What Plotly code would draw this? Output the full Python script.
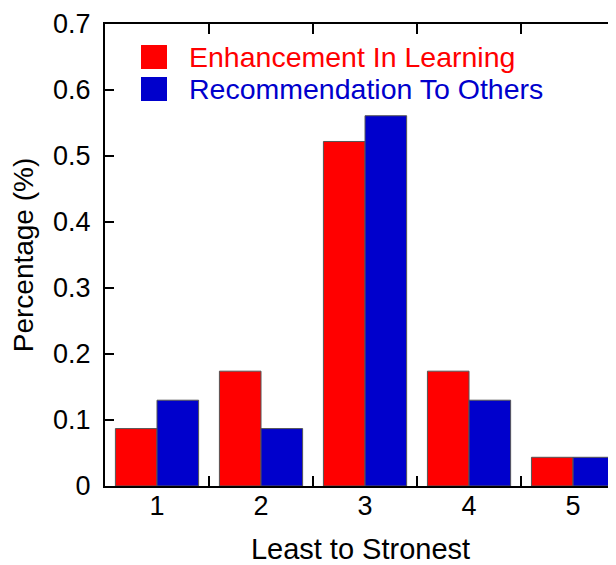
import plotly.graph_objects as go

categories = ["1", "2", "3", "4", "5"]
enhancement = [0.087, 0.174, 0.522, 0.174, 0.0435]
recommendation = [0.130, 0.087, 0.561, 0.130, 0.0435]
series_names = ["Enhancement In Learning", "Recommendation To Others"]
series_colors = ["#FF0000", "#0000CC"]
y_ticks = [0, 0.1, 0.2, 0.3, 0.4, 0.5, 0.6, 0.7]
y_ticktext = ["0", "0.1", "0.2", "0.3", "0.4", "0.5", "0.6", "0.7"]

FONT = "Liberation Sans, Arial, sans-serif"

fig = go.Figure()
for name, vals, col in zip(series_names, [enhancement, recommendation], series_colors):
    fig.add_trace(go.Bar(
        x=categories, y=vals, name=name, showlegend=False,
        marker=dict(color=col, line=dict(color="#555555", width=1)),
    ))

# Legend drawn as swatches + labels (large square swatches like the reference)
legend_rows = [(0.9545, 0.9026), (0.8853, 0.8333)]
for (y1, y0), name, col in zip(legend_rows, series_names, series_colors):
    fig.add_shape(type="rect", xref="paper", yref="paper",
                  x0=0.0705, x1=0.1213, y0=y0, y1=y1,
                  fillcolor=col, line=dict(width=0))
    fig.add_annotation(xref="paper", yref="paper", x=0.1605, y=(y0 + y1) / 2,
                       xanchor="left", yanchor="middle", showarrow=False,
                       text=name, font=dict(size=28.5, color=col))

fig.update_layout(
    width=608, height=557,
    margin=dict(l=97, r=0, t=16, b=79),
    paper_bgcolor="white", plot_bgcolor="white",
    barmode="group", bargap=0.2, bargroupgap=0,
    font=dict(family=FONT, color="black"),
    showlegend=False,
    xaxis=dict(
        type="category", range=[-0.5, 4.413],
        tickson="boundaries", ticks="inside", ticklen=10, tickwidth=2,
        tickcolor="black", showline=True, linecolor="black", linewidth=2,
        mirror="ticks", showgrid=False, zeroline=False,
        tickfont=dict(size=27), ticklabelstandoff=-5,
        title=dict(text="Least to Stronest", font=dict(size=29), standoff=20),
    ),
    yaxis=dict(
        range=[0, 0.7], tickvals=y_ticks, ticktext=y_ticktext,
        ticks="inside", ticklen=9, tickwidth=2, tickcolor="black",
        showline=True, linecolor="black", linewidth=2, mirror=False,
        showgrid=False, zeroline=False,
        tickfont=dict(size=27), ticklabelstandoff=7,
        title=dict(text="Percentage (%)", font=dict(size=28), standoff=12),
    ),
    yaxis2=dict(
        overlaying="y", side="right", anchor="x",
        range=[0, 0.7], tickvals=y_ticks, showticklabels=False,
        ticks="inside", ticklen=4, tickwidth=2, tickcolor="black",
        showline=False, showgrid=False, zeroline=False,
    ),
)

fig.write_html("out.html")
